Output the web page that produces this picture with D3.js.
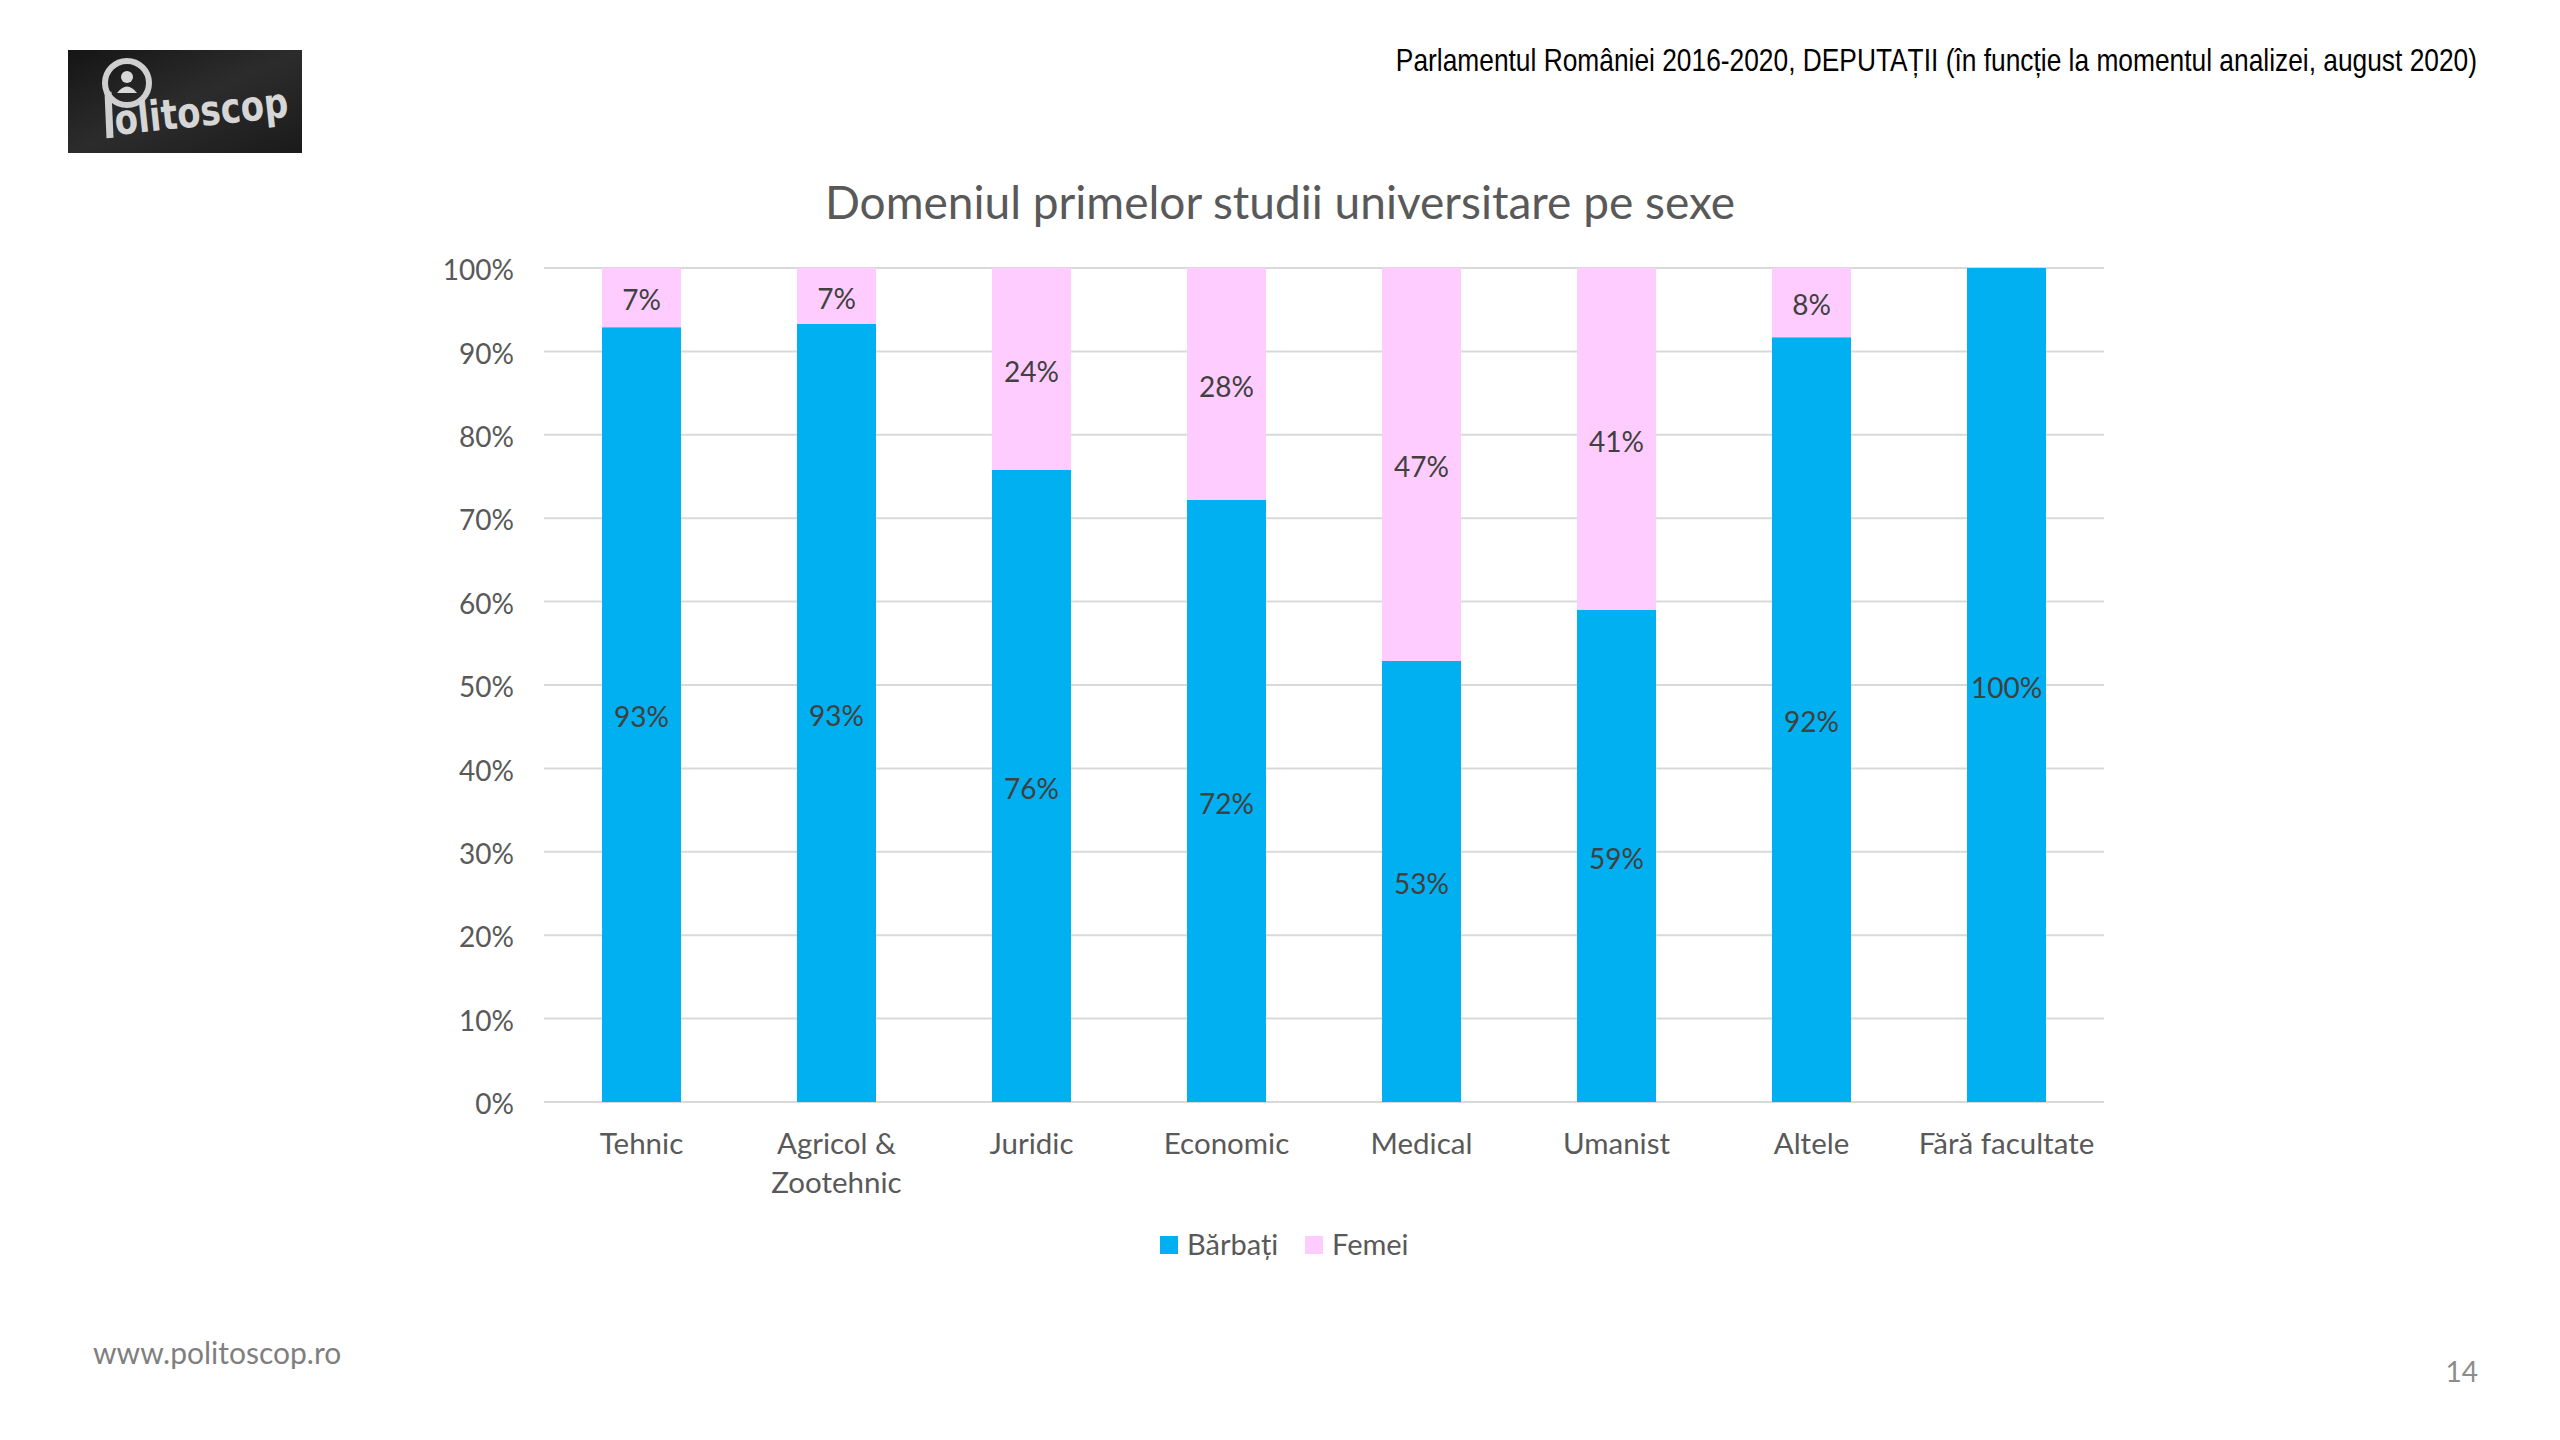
<!DOCTYPE html>
<html>
<head>
<meta charset="utf-8">
<script src="https://cdn.jsdelivr.net/npm/d3@7"></script>
<style>
  html, body { margin: 0; padding: 0; background: #ffffff; }
  svg { display: block; }
</style>
</head>
<body>
<script>
// ---- Data ----
const categories = ["Tehnic", "Agricol &\nZootehnic", "Juridic", "Economic", "Medical", "Umanist", "Altele", "Fără facultate"];
const seriesNames = ["Bărbați", "Femei"];
const barbati = [92.9, 93.3, 75.8, 72.2, 52.9, 59.0, 91.7, 100];
const femei   = [7.1, 6.7, 24.2, 27.8, 47.1, 41.0, 8.3, 0];
const yTicks = [0, 10, 20, 30, 40, 50, 60, 70, 80, 90, 100];
const seriesColors = ["#00B0F0", "#FFCCFF"];

const W = 2560, H = 1440;
const svg = d3.select("body").append("svg").attr("width", W).attr("height", H);
svg.append("rect").attr("width", W).attr("height", H).attr("fill", "#fff");

// ---- Logo ----
const defs = svg.append("defs");
const lg = defs.append("linearGradient").attr("id", "logoBg").attr("x1", "0").attr("y1", "0").attr("x2", "1").attr("y2", "1");
lg.append("stop").attr("offset", "0").attr("stop-color", "#151515");
lg.append("stop").attr("offset", "0.5").attr("stop-color", "#2c2c2c");
lg.append("stop").attr("offset", "1").attr("stop-color", "#1a1a1a");
const logo = svg.append("g");
logo.append("rect").attr("x", 68).attr("y", 50).attr("width", 234).attr("height", 103).attr("fill", "url(#logoBg)");
logo.append("circle").attr("cx", 127).attr("cy", 83).attr("r", 22).attr("fill", "none").attr("stroke", "#cfcfcf").attr("stroke-width", 6);
logo.append("line").attr("x1", 108).attr("y1", 92).attr("x2", 110).attr("y2", 138).attr("stroke", "#cfcfcf").attr("stroke-width", 7);
logo.append("circle").attr("cx", 127).attr("cy", 77).attr("r", 6).attr("fill", "#d8d8d8");
logo.append("path").attr("d", "M117,93 Q127,80 137,93 Z").attr("fill", "#d8d8d8");
logo.append("text")
  .attr("transform", "translate(116 135) rotate(-6) scale(0.9 1)")
  .attr("font-family", "'Liberation Sans Narrow', 'DejaVu Sans Condensed', sans-serif")
  .attr("font-weight", "bold").attr("font-size", 42).attr("fill", "#d6d6d6")
  .text("olitoscop");

// ---- Header ----
svg.append("text")
  .attr("transform", "translate(2477 71) scale(0.85 1)")
  .attr("text-anchor", "end")
  .attr("font-family", "'Liberation Sans Narrow', 'Liberation Sans', Arial, sans-serif")
  .attr("font-size", 31).attr("fill", "#000")
  .text("Parlamentul României 2016-2020, DEPUTAȚII (în funcție la momentul analizei, august 2020)");

// ---- Title ----
svg.append("text").attr("x", 1280).attr("y", 219).attr("text-anchor", "middle")
  .attr("font-family", "Lato, 'Open Sans', sans-serif")
  .attr("font-size", 46).attr("fill", "#595959")
  .text("Domeniul primelor studii universitare pe sexe");

// ---- Scales ----
const x = d3.scaleBand().domain(categories).range([544, 2104]).paddingInner(0.595).paddingOuter(0.2975);
const y = d3.scaleLinear().domain([0, 100]).range([1102, 268]);

// Gridlines
svg.append("g").selectAll("line").data(yTicks).join("line")
  .attr("x1", 544).attr("x2", 2104)
  .attr("y1", d => y(d)).attr("y2", d => y(d))
  .attr("stroke", "#D9D9D9").attr("stroke-width", 2);

// Y axis labels
const yAxis = d3.axisLeft(y).tickValues(yTicks).tickFormat(d => d + "%").tickSize(0).tickPadding(0);
const yg = svg.append("g").attr("transform", "translate(514,0)").call(yAxis);
yg.select(".domain").remove();
yg.selectAll("text").attr("font-family", "Lato, 'Open Sans', sans-serif").attr("font-size", 28).attr("fill", "#595959").attr("dy", "0.42em");

// Stacked data
const rows = categories.map((c, i) => ({ cat: c, "Bărbați": barbati[i], "Femei": femei[i] }));
const stack = d3.stack().keys(seriesNames)(rows);

const layers = svg.append("g").selectAll("g").data(stack).join("g").attr("fill", (d, i) => seriesColors[i]);
layers.selectAll("rect").data(d => d).join("rect")
  .attr("x", d => x(d.data.cat))
  .attr("width", x.bandwidth())
  .attr("y", d => y(d[1]))
  .attr("height", d => y(d[0]) - y(d[1]));

// Data labels
const lbl = svg.append("g");
stack.forEach(layer => {
  layer.forEach(d => {
    const v = d[1] - d[0];
    if (v <= 0) return;
    lbl.append("text")
      .attr("x", x(d.data.cat) + x.bandwidth() / 2)
      .attr("y", y((d[0] + d[1]) / 2))
      .attr("dy", "0.45em")
      .attr("text-anchor", "middle")
      .attr("font-family", "Lato, 'Open Sans', sans-serif")
      .attr("font-size", 28).attr("fill", "#404040")
      .text(d3.format(".0f")(v) + "%");
  });
});

// X axis labels
const xAxis = d3.axisBottom(x).tickSize(0).tickPadding(0).tickFormat("");
const xg = svg.append("g").attr("transform", "translate(0,1102)").call(xAxis);
xg.select(".domain").remove();
xg.selectAll(".tick").each(function(d) {
  const t = d3.select(this).append("text")
    .attr("text-anchor", "middle")
    .attr("font-family", "Lato, 'Open Sans', sans-serif")
    .attr("font-size", 29.5).attr("fill", "#595959");
  d.split("\n").forEach((line, i) => {
    t.append("tspan").attr("x", 0).attr("y", 52 + i * 39).text(line);
  });
});

// Legend
const legendX = [1160, 1305];
const leg = svg.append("g");
seriesNames.forEach((s, i) => {
  leg.append("rect").attr("x", legendX[i]).attr("y", 1236).attr("width", 18).attr("height", 18).attr("fill", seriesColors[i]);
  leg.append("text").attr("x", legendX[i] + 27).attr("y", 1255)
    .attr("font-family", "Lato, 'Open Sans', sans-serif")
    .attr("font-size", 29).attr("fill", "#595959").text(s);
});

// Footer
svg.append("text").attr("x", 93).attr("y", 1364)
  .attr("font-family", "Lato, 'Open Sans', sans-serif")
  .attr("font-size", 30).attr("fill", "#7f7f7f").text("www.politoscop.ro");
svg.append("text").attr("x", 2478).attr("y", 1382).attr("text-anchor", "end")
  .attr("font-family", "Lato, 'Open Sans', sans-serif")
  .attr("font-size", 28).attr("fill", "#8c8c8c").text("14");
</script>
</body>
</html>
